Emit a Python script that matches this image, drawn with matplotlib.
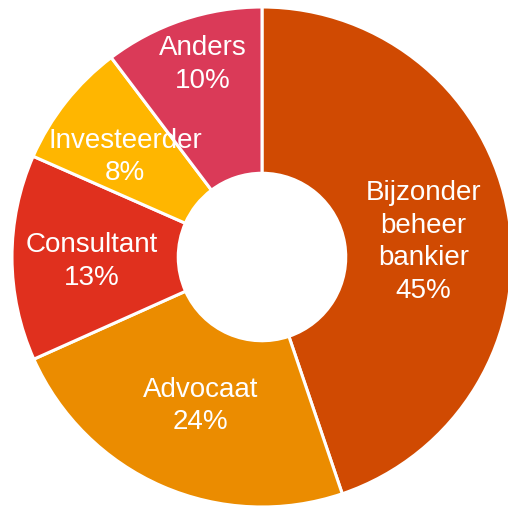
import numpy as np
import matplotlib.pyplot as plt

# Share of respondents per role (%), slice sizes
labels = ['Bijzonder\nbeheer\nbankier', 'Advocaat', 'Consultant', 'Investeerder', 'Anders']
values = [44.8, 23.5, 13.3, 8.1, 10.3]
shown_pct = [45, 24, 13, 8, 10]
colors = ['#D04A02', '#EB8C00', '#E0301E', '#FFB600', '#DA3A58']

# label placement: fraction of outer radius, and angle shift from slice middle
label_r = [0.65, 0.64, 0.68, 0.68, 0.81]
label_shift = [-3.7, 1.0, 1.0, 2.0, -1.5]

plt.rcParams['font.family'] = ['Liberation Sans', 'DejaVu Sans']

fig = plt.figure(figsize=(5.08, 5.10), dpi=100)
ax = fig.add_axes([0, 0, 1, 1])

wedges, _ = ax.pie(values, colors=colors, startangle=90, counterclock=False,
                   radius=1.0,
                   wedgeprops=dict(width=0.665, edgecolor='white', linewidth=2.2))

for w, lab, p, r, d in zip(wedges, labels, shown_pct, label_r, label_shift):
    ang = np.deg2rad((w.theta1 + w.theta2) / 2 + d)
    ax.text(r * np.cos(ang), r * np.sin(ang), f'{lab}\n{p}%',
            ha='center', va='center', color='white', fontsize=20,
            linespacing=1.32)

ax.set_xlim(-262 / 250, 246 / 250)
ax.set_ylim(-252 / 250, 258 / 250)
ax.set_aspect('auto')
ax.axis('off')

fig.savefig('out.png', dpi=100)
